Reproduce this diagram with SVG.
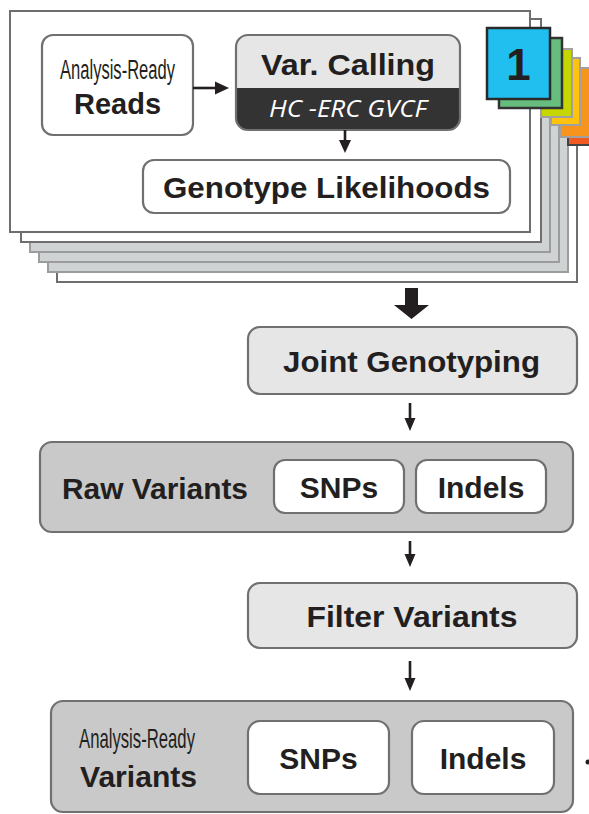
<svg xmlns="http://www.w3.org/2000/svg" width="589" height="814" viewBox="0 0 589 814">
<defs>
<style>
.pg{fill:#ffffff;stroke:#6e6e6e;stroke-width:2}
.pgg{fill:#cfd3d4;stroke:#9c9c9c;stroke-width:2}
.box{stroke:#707070;stroke-width:2.2}
.w{fill:#ffffff}
.lg{fill:#e6e6e6}
.mg{fill:#c9c9c9}
.t{font-family:"Liberation Sans",Arial,sans-serif;fill:#231f20}
.b{font-weight:bold;font-size:30px}
.c{font-size:27px}
.ln{stroke:#231f20;stroke-width:2.6;fill:none}
.hd{fill:#231f20}
</style>
</defs>

<g id="stack">
  <rect class="pg" x="57" y="60" width="520" height="222"/>
  <rect class="pgg" x="48" y="60" width="520" height="212"/>
  <rect class="pgg" x="39" y="60" width="520" height="202"/>
  <rect class="pgg" x="30" y="60" width="520" height="192"/>
  <rect class="pg" x="21" y="19" width="520" height="223"/>
  <rect class="pg" x="10" y="11" width="520" height="221"/>
</g>

<g id="tabs">
  <rect x="568" y="78" width="30" height="67" fill="#f15a22" stroke="#444" stroke-width="2"/>
  <rect x="560" y="68" width="35" height="69" fill="#f7941d" stroke="#a0a0a0" stroke-width="2"/>
  <rect x="551" y="58" width="29" height="67" fill="#ffc20e" stroke="#a0a0a0" stroke-width="2"/>
  <rect x="541" y="49" width="31" height="68" fill="#c5d600" stroke="#a0a0a0" stroke-width="2"/>
  <rect x="499" y="38" width="63" height="70" fill="#66bd7d" stroke="#333" stroke-width="2.5"/>
  <rect x="487" y="28" width="63" height="71" fill="#20bff0" stroke="#2a2a2a" stroke-width="2.5"/>
  <text class="t" x="518.5" y="80" text-anchor="middle" font-size="44" font-weight="bold">1</text>
</g>

<g id="reads">
  <rect class="box w" x="42" y="35" width="151" height="100" rx="11"/>
  <text class="t c" x="117.5" y="79" text-anchor="middle" textLength="115" lengthAdjust="spacingAndGlyphs">Analysis-Ready</text>
  <text class="t b" x="117.5" y="114" text-anchor="middle" font-size="29" textLength="87" lengthAdjust="spacingAndGlyphs">Reads</text>
</g>

<g id="varcalling">
  <rect x="236" y="35" width="224" height="95" rx="12" fill="#333333"/>
  <path d="M236,88 V47 a12,12 0 0 1 12,-12 H448 a12,12 0 0 1 12,12 V88 Z" fill="#e6e6e6"/>
  <rect class="box" x="236" y="35" width="224" height="95" rx="12" fill="none"/>
  <text class="t b" x="348" y="75" text-anchor="middle" textLength="174" lengthAdjust="spacingAndGlyphs">Var. Calling</text>
  <text x="348" y="117" text-anchor="middle" font-family="'Open Sans','DejaVu Sans',sans-serif" font-style="italic" font-size="23" fill="#ffffff" textLength="158" lengthAdjust="spacingAndGlyphs">HC -ERC GVCF</text>
</g>

<g id="genotype">
  <rect class="box w" x="143" y="160" width="367" height="53" rx="11"/>
  <text class="t b" x="326.5" y="198" text-anchor="middle" textLength="327" lengthAdjust="spacingAndGlyphs">Genotype Likelihoods</text>
</g>

<g id="joint">
  <rect class="box lg" x="248" y="327" width="329" height="67" rx="12"/>
  <text class="t b" x="411.5" y="372" text-anchor="middle" textLength="257" lengthAdjust="spacingAndGlyphs">Joint Genotyping</text>
</g>

<g id="raw">
  <rect class="box mg" x="40" y="442" width="533" height="90" rx="12"/>
  <text class="t b" x="62" y="499" font-size="29" textLength="186" lengthAdjust="spacingAndGlyphs">Raw Variants</text>
  <rect class="box w" x="274" y="460" width="130" height="53" rx="11"/>
  <text class="t b" x="339" y="498" text-anchor="middle">SNPs</text>
  <rect class="box w" x="416" y="460" width="130" height="53" rx="11"/>
  <text class="t b" x="481" y="498" text-anchor="middle">Indels</text>
</g>

<g id="filter">
  <rect class="box lg" x="248" y="583" width="329" height="65" rx="12"/>
  <text class="t b" x="412" y="627" text-anchor="middle" textLength="211" lengthAdjust="spacingAndGlyphs">Filter Variants</text>
</g>

<g id="final">
  <rect class="box mg" x="51" y="701" width="522" height="111" rx="12"/>
  <text class="t" x="79" y="748" font-size="28" textLength="116" lengthAdjust="spacingAndGlyphs">Analysis-Ready</text>
  <text class="t b" x="80" y="787" font-size="29" textLength="117" lengthAdjust="spacingAndGlyphs">Variants</text>
  <rect class="box w" x="248" y="721" width="141" height="73" rx="12"/>
  <text class="t b" x="318.5" y="769" text-anchor="middle">SNPs</text>
  <rect class="box w" x="412" y="721" width="142" height="73" rx="12"/>
  <text class="t b" x="483" y="769" text-anchor="middle">Indels</text>
  <circle cx="588" cy="762" r="2.5" fill="#231f20"/>
</g>

<g id="connectors">
  <line class="ln" x1="193" y1="88" x2="217" y2="88"/>
  <path class="hd" d="M215,81.5 L229,88 L215,94.5 Z"/>
  <line class="ln" x1="345" y1="130" x2="345" y2="142"/>
  <path class="hd" d="M339,140 L351,140 L345,153 Z"/>
  <path class="hd" d="M405,288 H418 V305 H429 L411.5,319 L394,305 H405 Z"/>
  <line class="ln" x1="410" y1="403" x2="410" y2="420"/>
  <path class="hd" d="M404.5,418 L415.5,418 L410,431 Z"/>
  <line class="ln" x1="410" y1="541" x2="410" y2="556"/>
  <path class="hd" d="M404.5,554 L415.5,554 L410,567 Z"/>
  <line class="ln" x1="410" y1="661" x2="410" y2="680"/>
  <path class="hd" d="M404.5,678 L415.5,678 L410,691 Z"/>
</g>
</svg>
